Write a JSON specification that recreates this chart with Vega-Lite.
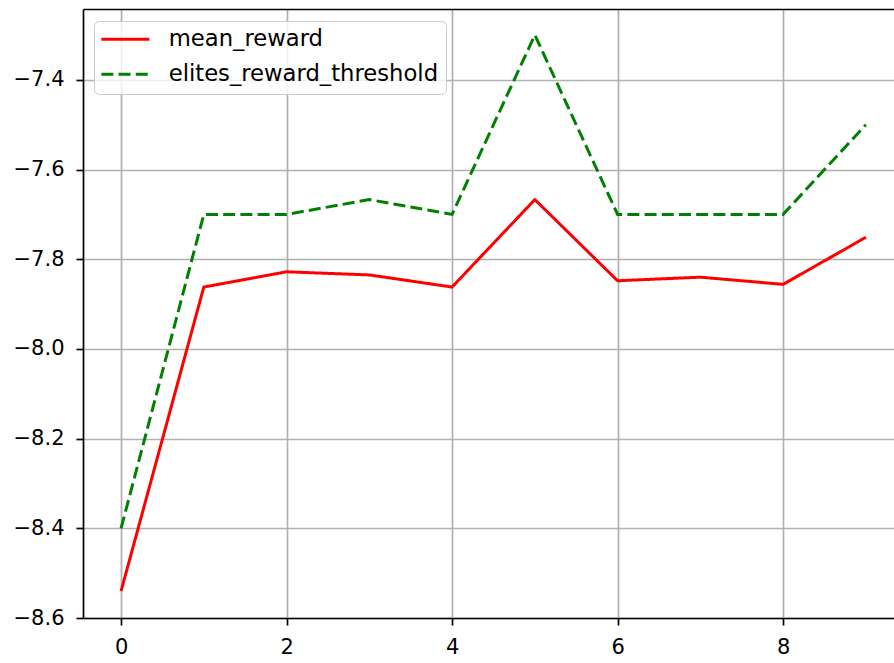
{
  "$schema": "https://vega.github.io/schema/vega-lite/v6.json",
  "autosize": "none",
  "width": 811,
  "height": 609,
  "padding": {"left": 83, "top": 9, "right": 0, "bottom": 45},
  "background": "white",
  "config": {
    "font": "DejaVu Sans",
    "view": {"stroke": null},
    "axis": {
      "labelFont": "DejaVu Sans",
      "labelFontSize": 21,
      "labelColor": "#000000",
      "domainColor": "#000000",
      "domainWidth": 1.7,
      "tickColor": "#000000",
      "tickWidth": 1.7,
      "tickSize": 7,
      "gridColor": "#b0b0b0",
      "gridWidth": 1.7,
      "gridOpacity": 1,
      "title": null
    },
    "legend": {
      "title": null,
      "orient": "none",
      "legendX": 11,
      "legendY": 12,
      "padding": 7,
      "symbolOffset": 13,
      "symbolType": "M-4,0H4",
      "symbolSize": 144,
      "symbolStrokeWidth": 3,
      "labelFont": "DejaVu Sans",
      "labelFontSize": 22.7,
      "labelColor": "#000000",
      "labelLimit": 500,
      "labelOffset": 32,
      "rowPadding": 11,
      "fillColor": "rgba(255,255,255,0.8)",
      "strokeColor": "#cccccc",
      "cornerRadius": 5
    }
  },
  "data": {
    "values": [
      {"step": 0, "series": "mean_reward", "reward": -8.540},
      {"step": 1, "series": "mean_reward", "reward": -7.862},
      {"step": 2, "series": "mean_reward", "reward": -7.828},
      {"step": 3, "series": "mean_reward", "reward": -7.835},
      {"step": 4, "series": "mean_reward", "reward": -7.862},
      {"step": 5, "series": "mean_reward", "reward": -7.667},
      {"step": 6, "series": "mean_reward", "reward": -7.848},
      {"step": 7, "series": "mean_reward", "reward": -7.840},
      {"step": 8, "series": "mean_reward", "reward": -7.856},
      {"step": 9, "series": "mean_reward", "reward": -7.751},
      {"step": 0, "series": "elites_reward_threshold", "reward": -8.4},
      {"step": 1, "series": "elites_reward_threshold", "reward": -7.7},
      {"step": 2, "series": "elites_reward_threshold", "reward": -7.7},
      {"step": 3, "series": "elites_reward_threshold", "reward": -7.667},
      {"step": 4, "series": "elites_reward_threshold", "reward": -7.7},
      {"step": 5, "series": "elites_reward_threshold", "reward": -7.3},
      {"step": 6, "series": "elites_reward_threshold", "reward": -7.7},
      {"step": 7, "series": "elites_reward_threshold", "reward": -7.7},
      {"step": 8, "series": "elites_reward_threshold", "reward": -7.7},
      {"step": 9, "series": "elites_reward_threshold", "reward": -7.5}
    ]
  },
  "resolve": {"axis": {"x": "independent", "y": "independent"}},
  "layer": [
    {
      "mark": {"type": "line", "strokeWidth": 3, "clip": true},
      "encoding": {
        "x": {
          "field": "step",
          "type": "quantitative",
          "scale": {"domain": [-0.46, 9.34], "nice": false, "zero": false},
          "axis": {"values": [0, 2, 4, 6, 8], "format": "d", "labelPadding": 11, "grid": true}
        },
        "y": {
          "field": "reward",
          "type": "quantitative",
          "scale": {"domain": [-8.6, -7.242], "nice": false, "zero": false},
          "axis": {"values": [-8.6, -8.4, -8.2, -8.0, -7.8, -7.6, -7.4], "format": ".1f", "labelPadding": 12, "grid": true}
        },
        "color": {
          "field": "series",
          "type": "nominal",
          "sort": ["mean_reward", "elites_reward_threshold"],
          "scale": {"domain": ["mean_reward", "elites_reward_threshold"], "range": ["#ff0000", "#008000"]}
        },
        "strokeDash": {
          "field": "series",
          "type": "nominal",
          "sort": ["mean_reward", "elites_reward_threshold"],
          "scale": {"domain": ["mean_reward", "elites_reward_threshold"], "range": [[1, 0], [12, 5.2]]}
        }
      }
    },
    {
      "mark": {"type": "line", "opacity": 0},
      "encoding": {
        "x": {
          "field": "step",
          "type": "quantitative",
          "axis": {"orient": "top", "labels": false, "ticks": false, "grid": false}
        },
        "y": {
          "field": "reward",
          "type": "quantitative",
          "axis": null
        }
      }
    }
  ]
}
